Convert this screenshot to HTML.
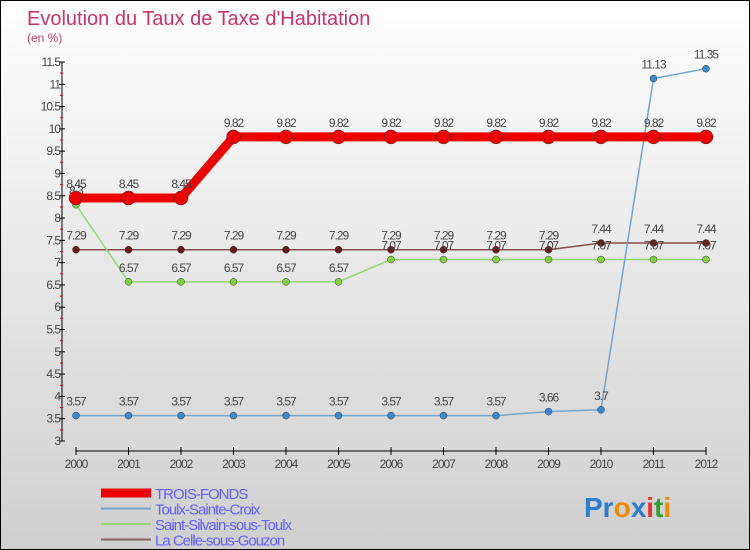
<!DOCTYPE html>
<html><head><meta charset="utf-8"><style>
body{margin:0}
#c{width:750px;height:550px;position:relative;overflow:hidden;box-sizing:border-box;border:1px solid #000;background:linear-gradient(#ffffff,#cfcfcf);font-family:"Liberation Sans",sans-serif}
</style></head><body>
<div id="c">
<svg id="s" width="750" height="550" style="position:absolute;left:0;top:0">
<text x="26" y="24" font-size="20" fill="#c8336a">Evolution du Taux de Taxe d'Habitation</text>
<text x="26" y="41" font-size="12" fill="#c8336a">(en %)</text>
<g id="axes"></g><g id="series"></g><g id="legend"></g>
<text x="583" y="516" font-size="28" font-weight="bold"><tspan fill="#2a7fd4">Pr</tspan><tspan fill="#f08a00">o</tspan><tspan fill="#2a7fd4">x</tspan><tspan fill="#e83030">i</tspan><tspan fill="#30a030">t</tspan><tspan fill="#f08a00">i</tspan></text>
</svg>
</div>
<script>
const years=[2000,2001,2002,2003,2004,2005,2006,2007,2008,2009,2010,2011,2012];
const yTicks=[3,3.5,4,4.5,5,5.5,6,6.5,7,7.5,8,8.5,9,9.5,10,10.5,11,11.5];
const seriesNames=["TROIS-FONDS","Toulx-Sainte-Croix","Saint-Silvain-sous-Toulx","La Celle-sous-Gouzon"];
const troisFonds=[8.45,8.45,8.45,9.82,9.82,9.82,9.82,9.82,9.82,9.82,9.82,9.82,9.82];
const toulx=[3.57,3.57,3.57,3.57,3.57,3.57,3.57,3.57,3.57,3.66,3.7,11.13,11.35];
const silvain=[8.3,6.57,6.57,6.57,6.57,6.57,7.07,7.07,7.07,7.07,7.07,7.07,7.07];
const celle=[7.29,7.29,7.29,7.29,7.29,7.29,7.29,7.29,7.29,7.29,7.44,7.44,7.44];
const NS="http://www.w3.org/2000/svg";
const xs=i=>75+i*(630/(years.length-1));
const ys=v=>440-(v-3)*(379/8.5);
function mk(tag,at,parent){const e=document.createElementNS(NS,tag);for(const k in at)e.setAttribute(k,at[k]);parent.appendChild(e);return e;}
const ax=document.getElementById('axes');
let e=mk('line',{x1:61,y1:ys(11.5),x2:61,y2:ys(3),stroke:'#000'},ax);


e=mk('line',{x1:75,y1:450,x2:705,y2:450,stroke:'#000'},ax);


yTicks.forEach((t,i)=>{
 mk('line',{x1:58,x2:64,y1:ys(t),y2:ys(t),stroke:'#000'},ax);
 if(i<yTicks.length-1)mk('line',{x1:59,x2:62,y1:ys(t+0.25),y2:ys(t+0.25),stroke:'#e00'},ax);
 const tx=mk('text',{x:59,y:ys(t)+4,'font-size':12,'text-anchor':'end',fill:'#444','letter-spacing':'-1'},ax);
 tx.textContent=String(t);
 
 
});
years.forEach((y,i)=>{
 mk('line',{x1:xs(i),x2:xs(i),y1:446,y2:454,stroke:'#000'},ax);
 const tx=mk('text',{x:xs(i),y:467,'font-size':12,'text-anchor':'middle',fill:'#444','letter-spacing':'-1'},ax);
 tx.textContent=String(y);
 
 
});
const sg=document.getElementById('series');
function draw(data,color,width,r,name,dot){
 const g=mk('g',{},sg);
 
 
 mk('polyline',{points:data.map((v,i)=>xs(i)+','+ys(v)).join(' '),fill:'none',stroke:color,'stroke-width':width,'stroke-linejoin':'round'},g);
 data.forEach((v,i)=>{
  const c=mk('circle',{cx:xs(i),cy:ys(v),r:r,fill:dot,stroke:'#333','stroke-width':0.5},g);
  
  
  const t=mk('text',{x:xs(i),y:ys(v)-10,'font-size':12,'text-anchor':'middle',fill:'#444','letter-spacing':'-1'},g);
  t.textContent=String(v);
  
  
 });
}
draw(celle,'#8b4a4a',1.5,3.5,'series-la-celle','#6b1a1a');
draw(silvain,'#90d870',1.5,3.5,'series-saint-silvain','#80d040');
draw(toulx,'#6fa6d0',1.5,3.5,'series-toulx','#3a8ad0');
draw(troisFonds,'#ee0000',9,7,'series-trois-fonds','#ee0000');
const lg=document.getElementById('legend');
const lc=['#ee0000','#6fa6d0','#90d870','#8b6060'];const lw=[9,2,2,2];
seriesNames.forEach((n,i)=>{
 const y=492+i*15.5;
 mk('line',{x1:100,x2:150,y1:y,y2:y,stroke:lc[i],'stroke-width':lw[i]},lg);
 const t=mk('text',{x:154,y:y+6,'font-size':15,fill:'#6060ff','letter-spacing':'-1'},lg);
 t.textContent=n;
 
 
});
</script>
</body></html>
